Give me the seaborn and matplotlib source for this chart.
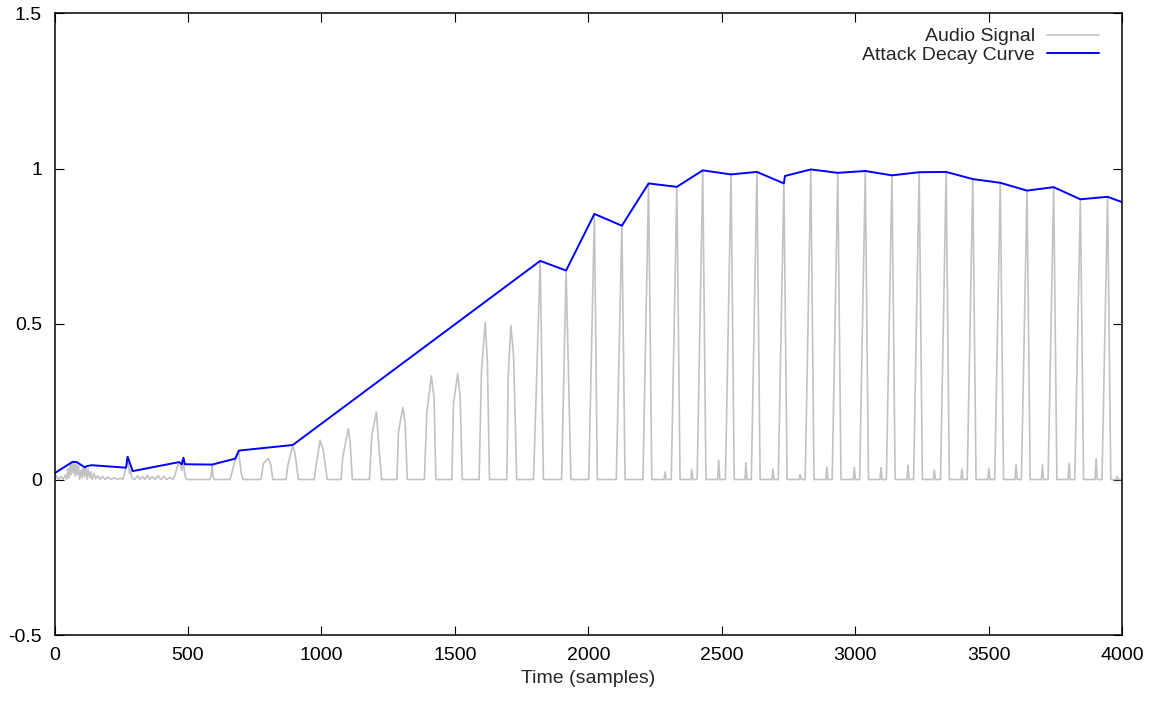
import matplotlib
matplotlib.use("Agg")
import matplotlib.pyplot as plt
import pandas as pd
import seaborn as sns

# ---- attack/decay envelope vertices (sample index, amplitude) ----
envelope_x = [0, 68, 83, 114, 121, 139, 268, 274, 293, 467, 477, 483, 489, 591, 677, 691, 893,
              1820, 1917, 2023, 2126, 2226, 2332, 2429, 2535, 2632, 2733, 2737, 2834, 2935,
              3038, 3138, 3240, 3341, 3441, 3544, 3644, 3744, 3844, 3946, 4000]
envelope_y = [0.020, 0.057, 0.056, 0.039, 0.043, 0.046, 0.038, 0.073, 0.027, 0.056, 0.049, 0.070,
              0.049, 0.048, 0.067, 0.093, 0.111,
              0.703, 0.672, 0.854, 0.816, 0.952, 0.941, 0.994, 0.981, 0.989, 0.952, 0.976, 0.997,
              0.986, 0.992, 0.978, 0.988, 0.989, 0.966, 0.954, 0.929, 0.940, 0.901, 0.909, 0.892]

# ---- audio signal: noisy onset section ----
onset_x = [0, 8, 14, 24, 32, 40, 46, 50, 54, 58, 62, 66, 70, 74, 78, 82, 86, 90, 94, 100, 104,
           108, 112, 117, 121, 126, 131, 136, 141, 148, 154, 162, 170, 180, 190, 200, 212, 224,
           236, 248, 256, 262, 267, 271, 274, 277, 281, 285, 290, 300, 312, 320, 330, 338, 348,
           356, 366, 376, 388, 398, 410, 420, 432, 444, 452, 458, 464, 468, 472, 477, 481, 483,
           486, 490, 496, 583, 588, 591, 594, 598, 658, 664, 670, 676, 681, 686, 690, 694, 700,
           706]
onset_y = [0.0, 0.012, 0.0, 0.010, 0.0, 0.015, 0.0, 0.035, 0.005, 0.050, 0.015, 0.057, 0.020,
           0.055, 0.010, 0.050, 0.015, 0.045, 0.0, 0.030, 0.005, 0.040, 0.010, 0.043, 0.0, 0.035,
           0.005, 0.025, 0.0, 0.020, 0.002, 0.012, 0.0, 0.010, 0.0, 0.008, 0.0, 0.006, 0.0, 0.004,
           0.0, 0.020, 0.035, 0.050, 0.073, 0.045, 0.020, 0.030, 0.004, 0.0, 0.012, 0.0, 0.010,
           0.0, 0.014, 0.0, 0.010, 0.0, 0.012, 0.0, 0.010, 0.0, 0.006, 0.0, 0.015, 0.035, 0.050,
           0.056, 0.045, 0.030, 0.055, 0.070, 0.030, 0.010, 0.0, 0.0, 0.020, 0.048, 0.010, 0.0,
           0.0, 0.020, 0.040, 0.060, 0.067, 0.085, 0.093, 0.060, 0.020, 0.0]

# ---- audio signal: periodic pulses (onset, peak, offset, peak height) ----
pulse_on = [773, 867, 973, 1074, 1180, 1283, 1386, 1489, 1591, 1695, 1795, 1900, 2002, 2105,
            2205, 2311, 2408, 2514, 2611, 2712, 2813, 2914, 3017, 3117, 3219, 3320, 3420, 3523,
            3623, 3723, 3823, 3925]
pulse_peak = [801, 893, 995, 1101, 1206, 1305, 1412, 1511, 1614, 1710, 1820, 1917, 2023, 2126,
              2226, 2332, 2429, 2535, 2632, 2733, 2834, 2935, 3038, 3138, 3240, 3341, 3441, 3544,
              3644, 3744, 3844, 3946]
pulse_off = [818, 914, 1022, 1116, 1226, 1322, 1429, 1528, 1630, 1732, 1832, 1935, 2034, 2138,
             2238, 2344, 2441, 2547, 2644, 2745, 2846, 2947, 3050, 3150, 3252, 3353, 3453, 3556,
             3656, 3756, 3856, 3958]
pulse_height = [0.068, 0.111, 0.127, 0.163, 0.217, 0.231, 0.333, 0.341, 0.505, 0.495, 0.703,
                0.672, 0.854, 0.816, 0.952, 0.941, 0.994, 0.981, 0.989, 0.952, 0.997, 0.986,
                0.992, 0.978, 0.988, 0.989, 0.966, 0.954, 0.929, 0.940, 0.901, 0.909]

# shoulders of the broad early pulses
rise_x = [783, 876, 979, 1080, 1189, 1289, 1395, 1495, 1600, 1700]
rise_y = [0.052, 0.052, 0.037, 0.073, 0.143, 0.154, 0.213, 0.245, 0.350, 0.330]
fall_x = [810, 901, 1007, 1108, 1217, 1314, 1422, 1520, 1622, 1720]
fall_y = [0.050, 0.084, 0.095, 0.117, 0.089, 0.180, 0.266, 0.266, 0.380, 0.400]

# small echo clicks between the later pulses
echo_x = [2288, 2388, 2489, 2591, 2692, 2794, 2894, 2997, 3097, 3198, 3297, 3400, 3501, 3603,
          3702, 3802, 3903, 3982]
echo_y = [0.024, 0.032, 0.061, 0.054, 0.034, 0.016, 0.040, 0.038, 0.038, 0.046, 0.030, 0.033,
          0.036, 0.048, 0.047, 0.053, 0.067, 0.010]

x_ticks = [0, 500, 1000, 1500, 2000, 2500, 3000, 3500, 4000]
x_tick_labels = ["0", "500", "1000", "1500", "2000", "2500", "3000", "3500", "4000"]
y_ticks = [-0.5, 0, 0.5, 1, 1.5]
y_tick_labels = ["-0.5", "0", "0.5", "1", "1.5"]

# ---- assemble the signal polyline ----
pts = list(zip(onset_x, onset_y))
for i in range(len(pulse_peak)):
    pts.append((pulse_on[i], 0.0))
    if i < len(rise_x):
        pts.append((rise_x[i], rise_y[i]))
    pts.append((pulse_peak[i], pulse_height[i]))
    if i < len(fall_x):
        pts.append((fall_x[i], fall_y[i]))
    pts.append((pulse_off[i], 0.0))
for ex, ey in zip(echo_x, echo_y):
    pts += [(ex - 4, 0.0), (ex, ey), (ex + 4, 0.0)]
pts.append((4000, 0.0))
pts.sort(key=lambda p: p[0])
signal = pd.DataFrame(pts, columns=["sample", "amplitude"])
envelope = pd.DataFrame({"sample": envelope_x, "amplitude": envelope_y})

sns.set_style("ticks")
plt.rcParams["font.family"] = ["Liberation Sans", "DejaVu Sans"]

FS = 14
W, H = 1158, 702
fig = plt.figure(figsize=(W / 100, H / 100), dpi=100)
ax = fig.add_axes([54.5 / W, (H - 635) / H, (1122 - 54.5) / W, (635 - 13) / H])

sns.lineplot(data=signal, x="sample", y="amplitude", ax=ax, color="#c2c2c2",
             linewidth=1.2, estimator=None, sort=False, label="Audio Signal")
sns.lineplot(data=envelope, x="sample", y="amplitude", ax=ax, color="#0000ff",
             linewidth=1.4, estimator=None, sort=False, label="Attack Decay Curve")

ax.set_xlim(0, 4000)
ax.set_ylim(-0.5, 1.5)
ax.set_xticks(x_ticks)
ax.set_xticklabels(x_tick_labels)
ax.set_yticks(y_ticks)
ax.set_yticklabels(y_tick_labels)
ax.tick_params(direction="in", length=6.5, width=0.8, top=True, right=True,
               labelsize=FS, pad=9.0, colors="black")
for s in ax.spines.values():
    s.set_visible(True)
    s.set_linewidth(1.1)
    s.set_color("black")
ax.set_xlabel("Time (samples)", fontsize=FS, labelpad=4.0)
ax.set_ylabel("")

ax.legend(loc="upper right", bbox_to_anchor=(1109 / W, 1 - 18 / H),
          bbox_transform=fig.transFigure, frameon=False, markerfirst=False,
          fontsize=FS, handlelength=2.7, handletextpad=0.62, borderpad=0,
          labelspacing=0.05)

fig.savefig("out.png", dpi=100)
